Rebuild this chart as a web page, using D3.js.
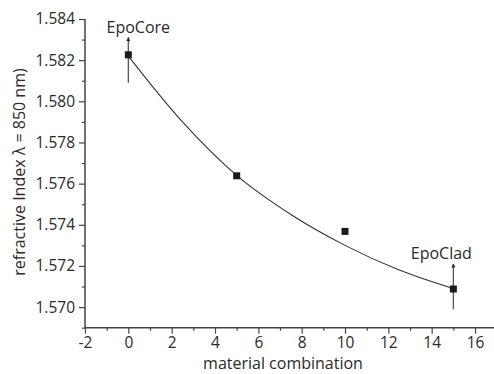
<!DOCTYPE html>
<html>
<head>
<meta charset="utf-8">
<script src="https://cdn.jsdelivr.net/npm/d3@7"></script>
<style>
  html, body { margin: 0; padding: 0; background: #fff; }
  text { font-family: "Open Sans", sans-serif; fill: #2a2a2a; }
</style>
</head>
<body>
<div id="chart"></div>
<script>
// measured points
var combos = [0, 5, 10, 15];
var indexValues = [1.58226, 1.57638, 1.57368, 1.57088];

// fitted curve
var fitX = [0, 2.5, 5, 7.5, 10, 12.5, 15];
var fitY = [1.5822, 1.5790, 1.5764, 1.5745, 1.5730, 1.5718, 1.5709];

// annotation arrows
var arrowX = [0, 15];
var arrowFrom = [1.5809, 1.5699];
var arrowTo = [1.5831, 1.5721];
var arrowLabels = ["EpoCore", "EpoClad"];

var xTicks = [-2, 0, 2, 4, 6, 8, 10, 12, 14, 16];
var xMinor = [-1, 1, 3, 5, 7, 9, 11, 13, 15, 17];
var yTicks = [1.570, 1.572, 1.574, 1.576, 1.578, 1.580, 1.582, 1.584];
var yMinor = [1.569, 1.571, 1.573, 1.575, 1.577, 1.579, 1.581, 1.583];

var W = 494, H = 374;
var svg = d3.select("#chart").append("svg")
  .attr("width", W).attr("height", H);

var x = d3.scaleLinear().domain([-2, 17]).range([85, 496.7]);
var y = d3.scaleLinear().domain([1.569, 1.584]).range([327.7, 19]);

svg.append("defs").append("marker")
  .attr("id", "head")
  .attr("viewBox", "0 0 10 10")
  .attr("refX", 9).attr("refY", 5)
  .attr("markerWidth", 4).attr("markerHeight", 5)
  .attr("markerUnits", "userSpaceOnUse")
  .attr("orient", "auto")
  .append("path").attr("d", "M0,0L10,5L0,10z").attr("fill", "#222");

// axes
var xAxis = svg.append("g")
  .attr("transform", "translate(0," + y.range()[0] + ")")
  .call(d3.axisBottom(x).tickValues(xTicks).tickSize(6).tickPadding(3)
    .tickFormat(function(d) { return String(d); }));
svg.append("g")
  .attr("transform", "translate(0," + y.range()[0] + ")")
  .call(d3.axisBottom(x).tickValues(xMinor).tickSize(3).tickFormat(""))
  .select(".domain").remove();

var yAxis = svg.append("g")
  .attr("transform", "translate(" + x(-2) + ",0)")
  .call(d3.axisLeft(y).tickValues(yTicks).tickSize(6).tickPadding(4)
    .tickFormat(d3.format(".3f")));
svg.append("g")
  .attr("transform", "translate(" + x(-2) + ",0)")
  .call(d3.axisLeft(y).tickValues(yMinor).tickSize(3).tickFormat(""))
  .select(".domain").remove();

svg.selectAll(".domain").attr("stroke", "#444").attr("stroke-width", 1.5);
svg.selectAll(".tick line").attr("stroke", "#444").attr("stroke-width", 1.2);
svg.selectAll(".tick text").style("font-size", "15.5px").attr("fill", "#2a2a2a");
// outer tick stubs off
xAxis.select(".domain").attr("d", "M" + x.range()[0] + ",0H" + x.range()[1]);
yAxis.select(".domain").attr("d", "M0," + y.range()[0] + "V" + y.range()[1]);

// axis titles
svg.append("text")
  .attr("x", 283).attr("y", 369)
  .attr("text-anchor", "middle")
  .style("font-size", "16px")
  .text("material combination");

svg.append("text")
  .attr("transform", "translate(25,172) rotate(-90)")
  .attr("text-anchor", "middle")
  .style("font-size", "16px")
  .text("refractive Index \u03bb = 850 nm)");

// fit curve
var fitData = fitX.map(function(d, i) { return [d, fitY[i]]; });
svg.append("path")
  .datum(fitData)
  .attr("fill", "none")
  .attr("stroke", "#333")
  .attr("stroke-width", 1.1)
  .attr("d", d3.line()
    .x(function(d) { return x(d[0]); })
    .y(function(d) { return y(d[1]); })
    .curve(d3.curveMonotoneX));

// arrows
arrowX.forEach(function(ax, i) {
  svg.append("line")
    .attr("x1", x(ax)).attr("x2", x(ax))
    .attr("y1", y(arrowFrom[i])).attr("y2", y(arrowTo[i]))
    .attr("stroke", "#555").attr("stroke-width", 1.3)
    .attr("marker-end", "url(#head)");
});

// points
svg.selectAll(".pt")
  .data(combos)
  .enter().append("rect")
  .attr("class", "pt")
  .attr("x", function(d) { return x(d) - 3.5; })
  .attr("y", function(d, i) { return y(indexValues[i]) - 3.5; })
  .attr("width", 7).attr("height", 7)
  .attr("fill", "#1a1a1a");

// labels: EpoCore sits right of its arrow, EpoClad left of it
var labelShift = [10, -12];
svg.selectAll(".lbl")
  .data(arrowLabels)
  .enter().append("text")
  .attr("class", "lbl")
  .attr("x", function(d, i) { return x(arrowX[i]) + labelShift[i]; })
  .attr("y", function(d, i) { return y(arrowTo[i]) - 4.5; })
  .attr("text-anchor", "middle")
  .style("font-size", "16px")
  .text(function(d) { return d; });
</script>
</body>
</html>
